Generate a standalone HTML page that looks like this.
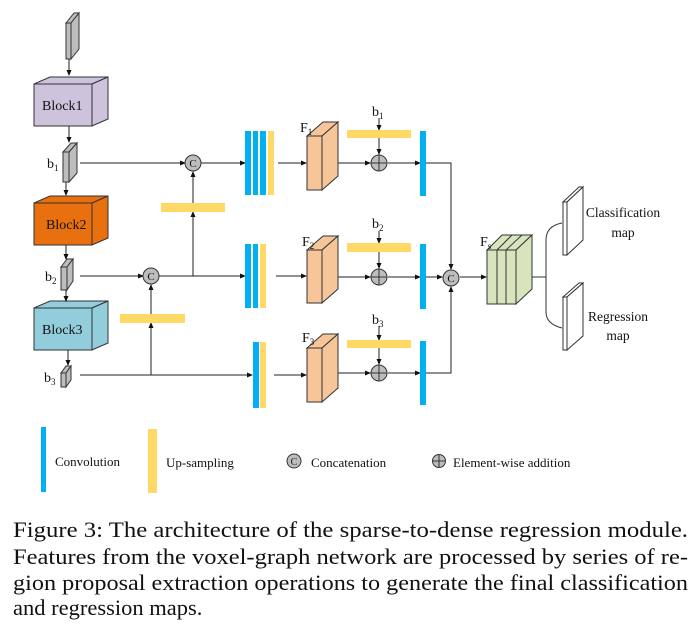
<!DOCTYPE html>
<html><head><meta charset="utf-8"><style>
html,body{margin:0;padding:0;background:#fff;}
svg{display:block;}
text{font-family:"Liberation Serif",serif;fill:#111;}
</style></head><body>
<svg width="699" height="628" viewBox="0 0 699 628" xmlns="http://www.w3.org/2000/svg">
<defs>
<marker id="a" markerWidth="6" markerHeight="6" refX="5" refY="3" orient="auto" markerUnits="userSpaceOnUse"><path d="M0,0.5 L6,3 L0,5.5z" fill="#111"/></marker>
</defs>
<g stroke="#333" stroke-width="1">
<polygon points="66,23 74,13 79,13 71,23" fill="#bdbdbd"/><polygon points="71,23 79,13 79,49 71,59" fill="#bdbdbd"/><rect x="66" y="23" width="5" height="36" fill="#bdbdbd"/>
<polygon points="34,84 50,77 108,77 92,84" fill="#cdc3dd"/><polygon points="92,84 108,77 108,119 92,126" fill="#cdc3dd"/><rect x="34" y="84" width="58" height="42" fill="#cdc3dd"/>
<polygon points="63,152 71,143 77,143 69,152" fill="#bdbdbd"/><polygon points="69,152 77,143 77,173 69,182" fill="#bdbdbd"/><rect x="63" y="152" width="6" height="30" fill="#bdbdbd"/>
<polygon points="34,203 50,196 108,196 92,203" fill="#e8700f"/><polygon points="92,203 108,196 108,238 92,245" fill="#e8700f"/><rect x="34" y="203" width="58" height="42" fill="#e8700f"/>
<polygon points="61,267 67,259 73,259 67,267" fill="#bdbdbd"/><polygon points="67,267 73,259 73,281 67,290" fill="#bdbdbd"/><rect x="61" y="267" width="6" height="23" fill="#bdbdbd"/>
<polygon points="34,308 50,301 108,301 92,308" fill="#92cddb"/><polygon points="92,308 108,301 108,343 92,350" fill="#92cddb"/><rect x="34" y="308" width="58" height="42" fill="#92cddb"/>
<polygon points="61,373 66,366 71,366 66,373" fill="#bdbdbd"/><polygon points="66,373 71,366 71,380 66,387" fill="#bdbdbd"/><rect x="61" y="373" width="5" height="14" fill="#bdbdbd"/>
</g>
<g fill="#111" font-size="14">
<text x="42" y="110">Block1</text><text x="46" y="229">Block2</text><text x="42" y="334">Block3</text>
<text x="47" y="168">b<tspan font-size="9" dy="3">1</tspan></text>
<text x="45" y="281">b<tspan font-size="9" dy="3">2</tspan></text>
<text x="44" y="382">b<tspan font-size="9" dy="3">3</tspan></text>
</g>
<g stroke="#222" stroke-width="1" fill="none" marker-end="url(#a)">
<line x1="69" y1="59" x2="69" y2="75"/>
<line x1="69" y1="126" x2="69" y2="142"/>
<line x1="66" y1="182" x2="66" y2="195"/>
<line x1="66" y1="245" x2="66" y2="259"/>
<line x1="66" y1="290" x2="66" y2="301"/>
<line x1="68" y1="350" x2="68" y2="365"/>
<line x1="80" y1="163" x2="185" y2="163"/>
<line x1="80" y1="276" x2="143" y2="276"/>
<line x1="80" y1="375" x2="252" y2="375"/>
<line x1="201" y1="163" x2="245" y2="163"/>
<line x1="159" y1="276" x2="245" y2="276"/>
<line x1="193" y1="276" x2="193" y2="212"/>
<line x1="193" y1="203" x2="193" y2="172"/>
<line x1="151" y1="375" x2="151" y2="323"/>
<line x1="151" y1="314" x2="151" y2="285"/>
<line x1="278" y1="163" x2="306" y2="163"/>
<line x1="276" y1="276" x2="306" y2="276"/>
<line x1="274" y1="375" x2="306" y2="375"/>
<line x1="338" y1="163" x2="370" y2="163"/>
<line x1="338" y1="277" x2="370" y2="277"/>
<line x1="338" y1="373" x2="370" y2="373"/>
<line x1="388" y1="163" x2="420" y2="163"/>
<line x1="388" y1="277" x2="420" y2="277"/>
<line x1="388" y1="373" x2="420" y2="373"/>
<line x1="379" y1="118" x2="379" y2="130"/>
<line x1="379" y1="138" x2="379" y2="154"/>
<line x1="379" y1="231" x2="379" y2="243"/>
<line x1="379" y1="252" x2="379" y2="268"/>
<line x1="379" y1="326" x2="379" y2="340"/>
<line x1="379" y1="348" x2="379" y2="364"/>
<polyline points="426,163 451,163 451,269"/>
<polyline points="426,373 451,373 451,287"/>
<line x1="426" y1="277" x2="442" y2="277"/>
<line x1="460" y1="277" x2="486" y2="277"/>
</g>
<g stroke="#333" fill="none">
<line x1="517" y1="277" x2="546" y2="277"/>
<path d="M562,223 Q546,226 546,240 L546,312 Q546,324 562,328"/>
</g>
<g fill="#fed966">
<rect x="161" y="203" width="64" height="9"/><rect x="120" y="314" width="65" height="9"/>
<rect x="347" y="130" width="64" height="8"/><rect x="347" y="243" width="64" height="9"/><rect x="347" y="340" width="64" height="8"/>
<rect x="268" y="131" width="6" height="64"/><rect x="260" y="244" width="6" height="64"/><rect x="260" y="342" width="6" height="66"/>
<rect x="148" y="429" width="9" height="64"/>
</g>
<g fill="#00b0f0">
<rect x="245" y="131" width="6" height="64"/><rect x="253" y="131" width="5" height="64"/><rect x="260" y="131" width="6" height="64"/>
<rect x="245" y="244" width="6" height="64"/><rect x="253" y="244" width="5" height="64"/>
<rect x="253" y="342" width="6" height="66"/>
<rect x="420" y="131" width="6" height="65"/><rect x="420" y="244" width="6" height="65"/><rect x="420" y="341" width="6" height="64"/>
<rect x="41" y="427" width="5" height="65"/>
</g>
<g stroke="#333" fill="#f7c59a">
<polygon points="307,136 323,122 338,122 322,136"/><polygon points="322,136 338,122 338,176 322,190"/><rect x="307" y="136" width="15" height="54"/>
<polygon points="307,250 323,236 338,236 322,250"/><polygon points="322,250 338,236 338,289 322,303"/><rect x="307" y="250" width="15" height="53"/>
<polygon points="307,348 323,334 338,334 322,348"/><polygon points="322,348 338,334 338,388 322,402"/><rect x="307" y="348" width="15" height="54"/>
</g>
<g stroke="#333" fill="#d7e4bd">
<polygon points="487,250 502,235 532,235 516,250"/><polygon points="516,250 532,235 532,289 516,304"/><rect x="487" y="250" width="29" height="54"/>
<line x1="497" y1="250" x2="497" y2="304"/><line x1="506" y1="250" x2="506" y2="304"/>
<line x1="497" y1="250" x2="512" y2="235"/><line x1="506" y1="250" x2="522" y2="235"/>
</g>
<g stroke="#333" fill="#fff">
<polygon points="563,202 579,187 583,187 567,202"/><polygon points="567,202 583,187 583,240 567,255"/><rect x="563" y="202" width="4" height="53"/>
<polygon points="563,297 579,283 583,283 567,297"/><polygon points="567,297 583,283 583,336 567,350"/><rect x="563" y="297" width="4" height="53"/>
</g>
<g stroke="#333" fill="#bdbdbd">
<circle cx="193" cy="163" r="8"/><circle cx="151" cy="276" r="8"/><circle cx="451" cy="278" r="8"/>
<circle cx="294" cy="461" r="7"/>
<circle cx="379" cy="163" r="8"/><circle cx="379" cy="277" r="8"/><circle cx="379" cy="373" r="8"/>
<circle cx="439" cy="461" r="6.5"/>
</g>
<g stroke="#333">
<line x1="371" y1="163" x2="387" y2="163"/><line x1="379" y1="155" x2="379" y2="171"/>
<line x1="371" y1="277" x2="387" y2="277"/><line x1="379" y1="269" x2="379" y2="285"/>
<line x1="371" y1="373" x2="387" y2="373"/><line x1="379" y1="365" x2="379" y2="381"/>
<line x1="432.5" y1="461" x2="445.5" y2="461"/><line x1="439" y1="454.5" x2="439" y2="467.5"/>
</g>
<g font-size="11" text-anchor="middle">
<text x="193" y="167">C</text><text x="151" y="280">C</text><text x="451" y="282">C</text><text x="294" y="465" font-size="10">C</text>
</g>
<g font-size="14">
<text x="300" y="132">F<tspan font-size="9" dy="3">1</tspan></text>
<text x="302" y="246">F<tspan font-size="9" dy="3">2</tspan></text>
<text x="302" y="342">F<tspan font-size="9" dy="3">3</tspan></text>
<text x="480" y="246">F<tspan font-size="9" dy="3">s</tspan></text>
<text x="372" y="116">b<tspan font-size="9" dy="3">1</tspan></text>
<text x="372" y="228">b<tspan font-size="9" dy="3">2</tspan></text>
<text x="372" y="324">b<tspan font-size="9" dy="3">3</tspan></text>
</g>
<g font-size="13.5" text-anchor="middle">
<text x="623" y="217">Classification</text><text x="623" y="237">map</text>
<text x="618" y="321">Regression</text><text x="618" y="340">map</text>
</g>
<g font-size="13">
<text x="55" y="466">Convolution</text>
<text x="166" y="467">Up-sampling</text>
<text x="311" y="467">Concatenation</text>
<text x="453" y="467">Element-wise addition</text>
</g>
<g font-size="22.5">
<text x="13" y="537" textLength="675" lengthAdjust="spacingAndGlyphs">Figure 3: The architecture of the sparse-to-dense regression module.</text>
<text x="13" y="564" textLength="675" lengthAdjust="spacingAndGlyphs">Features from the voxel-graph network are processed by series of re-</text>
<text x="13" y="590" textLength="675" lengthAdjust="spacingAndGlyphs">gion proposal extraction operations to generate the final classification</text>
<text x="13" y="615">and regression maps.</text>
</g>
</svg>
</body></html>
